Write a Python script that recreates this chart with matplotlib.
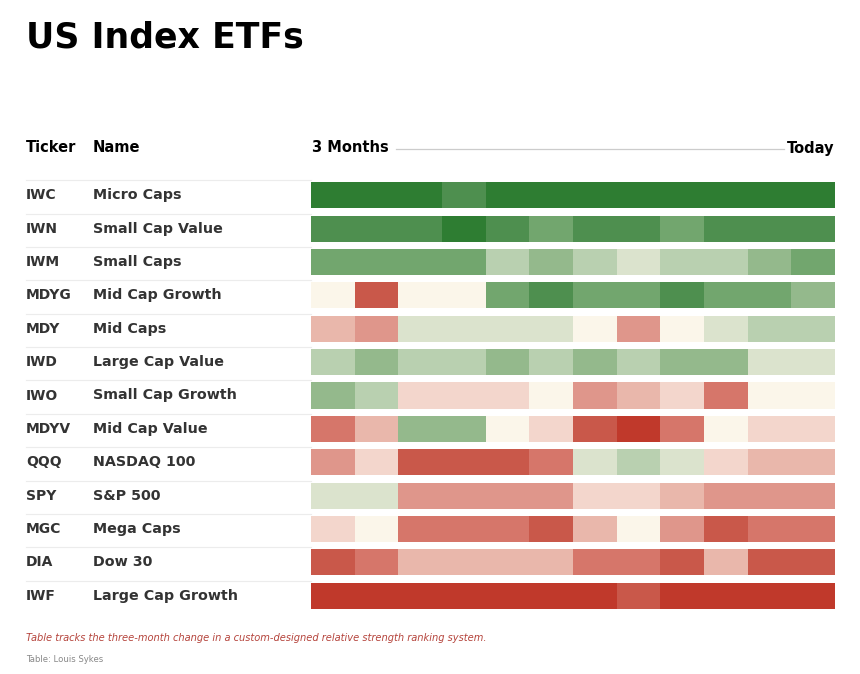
import numpy as np
import matplotlib.pyplot as plt
from matplotlib.colors import ListedColormap, BoundaryNorm
from matplotlib.transforms import blended_transform_factory

# Data: relative strength level per ticker, 12 steps from 3 months ago to today
tickers = ['IWC', 'IWN', 'IWM', 'MDYG', 'MDY', 'IWD', 'IWO',
           'MDYV', 'QQQ', 'SPY', 'MGC', 'DIA', 'IWF']
names = ['Micro Caps', 'Small Cap Value', 'Small Caps', 'Mid Cap Growth',
         'Mid Caps', 'Large Cap Value', 'Small Cap Growth', 'Mid Cap Value',
         'NASDAQ 100', 'S&P 500', 'Mega Caps', 'Dow 30', 'Large Cap Growth']
levels = [
    [6, 6, 6, 5, 6, 6, 6, 6, 6, 6, 6, 6],
    [5, 5, 5, 6, 5, 4, 5, 5, 4, 5, 5, 5],
    [4, 4, 4, 4, 2, 3, 2, 1, 2, 2, 3, 4],
    [0, -5, 0, 0, 4, 5, 4, 4, 5, 4, 4, 3],
    [-2, -3, 1, 1, 1, 1, 0, -3, 0, 1, 2, 2],
    [2, 3, 2, 2, 3, 2, 3, 2, 3, 3, 1, 1],
    [3, 2, -1, -1, -1, 0, -3, -2, -1, -4, 0, 0],
    [-4, -2, 3, 3, 0, -1, -5, -6, -4, 0, -1, -1],
    [-3, -1, -5, -5, -5, -4, 1, 2, 1, -1, -2, -2],
    [1, 1, -3, -3, -3, -3, -1, -1, -2, -3, -3, -3],
    [-1, 0, -4, -4, -4, -5, -2, 0, -3, -5, -4, -4],
    [-5, -4, -2, -2, -2, -2, -4, -4, -5, -2, -5, -5],
    [-6, -6, -6, -6, -6, -6, -6, -5, -6, -6, -6, -6],
]
palette = ['#c0392b', '#c9584a', '#d6766a', '#df968b', '#e9b7ab', '#f3d6cc',
           '#fbf6ea', '#dbe3cd', '#b9d0b0', '#94b98c', '#72a66e', '#4e8f4f',
           '#2e7d32']

vals = np.array(levels)
cmap = ListedColormap(palette)
norm = BoundaryNorm(np.arange(-6.5, 7.5, 1), cmap.N)

W, H = 860, 674
fig = plt.figure(figsize=(W / 100, H / 100), dpi=100)
fig.patch.set_facecolor('white')

# heat strip axes (pixel layout of the table)
x0, x1 = 311, 835
y_top, y_bot = 178.8, 612.2
ax = fig.add_axes([x0 / W, 1 - y_bot / H, (x1 - x0) / W, (y_bot - y_top) / H])
ax.set_xlim(0, vals.shape[1])
ax.set_ylim(len(tickers) - 0.5, -0.5)
ax.axis('off')

for r in range(vals.shape[0]):
    ax.barh(r, np.ones(vals.shape[1]), left=np.arange(vals.shape[1]),
            height=0.78, color=cmap(norm(vals[r])), linewidth=0)

# labels on the left, rows aligned with the heat strip
tr = blended_transform_factory(fig.transFigure, ax.transData)
for r, (t, n) in enumerate(zip(tickers, names)):
    ax.text(26 / W, r, t, transform=tr, fontsize=10, fontweight='bold',
            color='#333333', va='center', ha='left', clip_on=False)
    ax.text(93 / W, r, n, transform=tr, fontsize=10.3, fontweight='bold',
            color='#333333', va='center', ha='left', clip_on=False)
    ax.plot([26 / W, 311 / W], [r - 0.45, r - 0.45], transform=tr,
            color='#ececec', lw=0.8, clip_on=False)

# title and header
fig.text(26 / W, 1 - 37 / H, 'US Index ETFs', fontsize=25, fontweight='bold',
         va='center', ha='left', color='black')
hy = 1 - 148 / H
fig.text(26 / W, hy, 'Ticker', fontsize=10.5, fontweight='bold', va='center')
fig.text(93 / W, hy, 'Name', fontsize=10.5, fontweight='bold', va='center')
fig.text(312 / W, hy, '3 Months', fontsize=10.5, fontweight='bold', va='center')
fig.text(834 / W, hy, 'Today', fontsize=10.5, fontweight='bold', va='center',
         ha='right')
fig.add_artist(plt.Line2D([396 / W, 784 / W], [1 - 149 / H, 1 - 149 / H],
                          color='#cccccc', lw=0.9))

# notes
fig.text(26 / W, 1 - 638 / H,
         'Table tracks the three-month change in a custom-designed relative strength ranking system.',
         fontsize=7.1, style='italic', color='#b5443c', va='center')
fig.text(26 / W, 1 - 660 / H, 'Table: Louis Sykes', fontsize=6.1, color='#888888',
         va='center')

fig.savefig('out.png', dpi=100, facecolor='white')
